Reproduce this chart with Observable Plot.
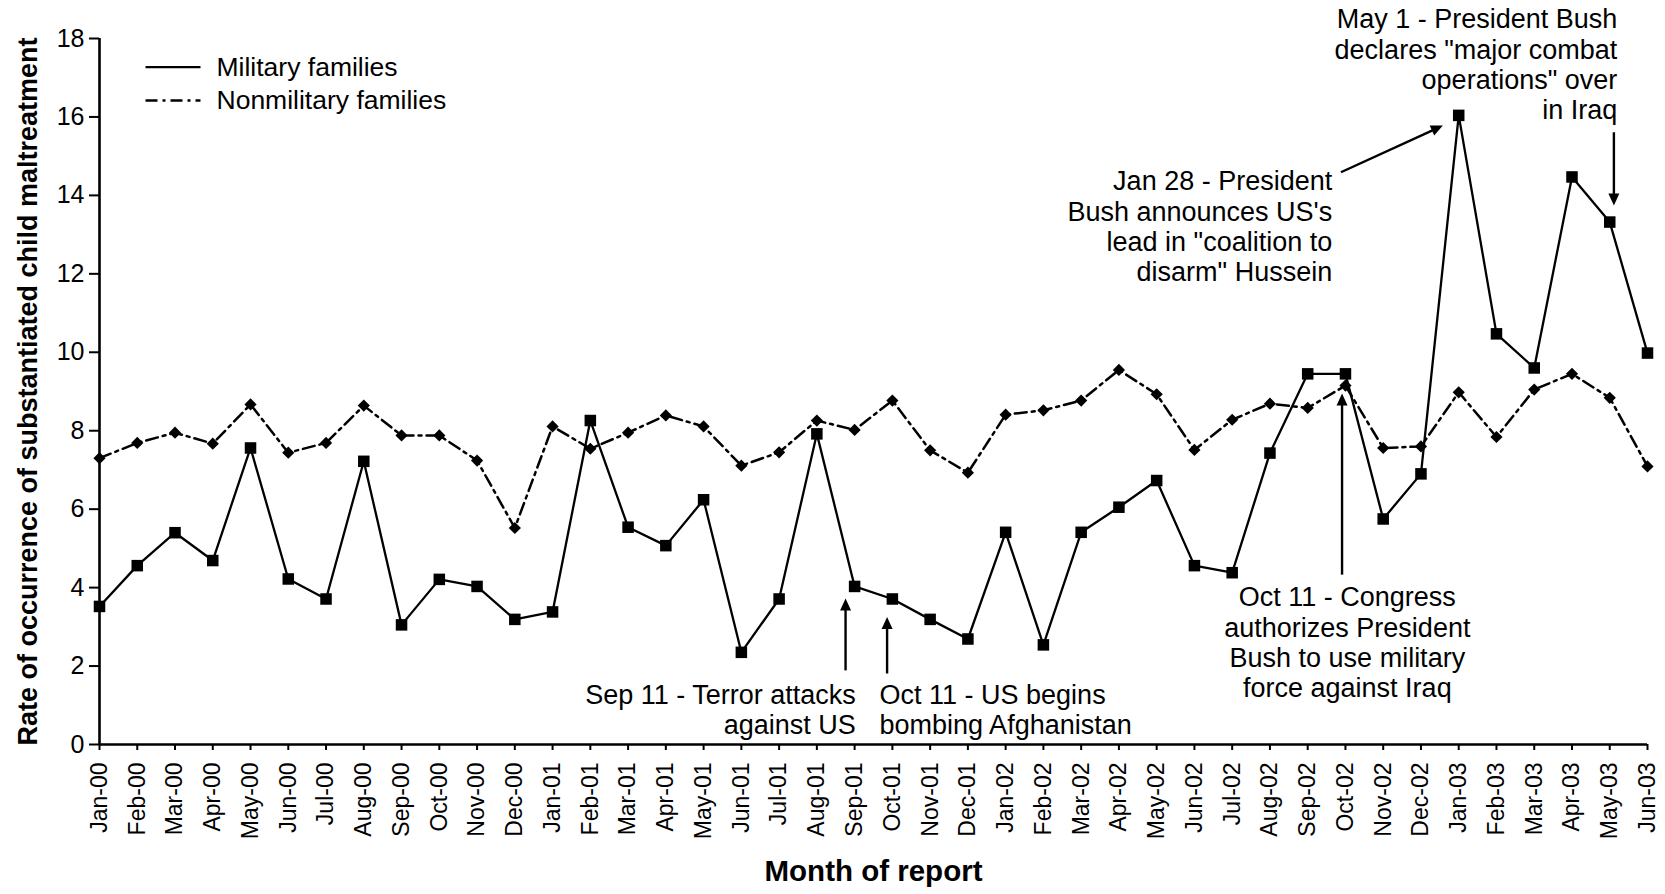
<!DOCTYPE html>
<html><head><meta charset="utf-8">
<script src="https://cdn.jsdelivr.net/npm/d3@7"></script>
<script src="https://cdn.jsdelivr.net/npm/@observablehq/plot@0.6"></script>
<style>body{margin:0;background:#fff}</style>
</head><body><div id="chart"></div>
<script>
const months = ["Jan-00","Feb-00","Mar-00","Apr-00","May-00","Jun-00","Jul-00","Aug-00","Sep-00","Oct-00","Nov-00","Dec-00",
"Jan-01","Feb-01","Mar-01","Apr-01","May-01","Jun-01","Jul-01","Aug-01","Sep-01","Oct-01","Nov-01","Dec-01",
"Jan-02","Feb-02","Mar-02","Apr-02","May-02","Jun-02","Jul-02","Aug-02","Sep-02","Oct-02","Nov-02","Dec-02",
"Jan-03","Feb-03","Mar-03","Apr-03","May-03","Jun-03"];
const military = [3.52,4.56,5.40,4.69,7.56,4.22,3.71,7.22,3.05,4.21,4.03,3.19,
3.38,8.26,5.54,5.07,6.24,2.35,3.71,7.92,4.03,3.71,3.19,2.69,
5.41,2.54,5.41,6.05,6.73,4.56,4.38,7.43,9.45,9.45,5.75,6.90,
16.04,10.47,9.60,14.47,13.32,9.98];
const nonmilitary = [7.30,7.69,7.95,7.67,8.67,7.44,7.69,8.64,7.88,7.88,7.24,5.52,
8.11,7.54,7.95,8.39,8.11,7.11,7.45,8.26,8.02,8.77,7.50,6.93,
8.41,8.52,8.77,9.55,8.93,7.51,8.28,8.69,8.58,9.15,7.56,7.60,
8.98,7.84,9.05,9.45,8.84,7.09];
const yTicks = [0,2,4,6,8,10,12,14,16,18];
const legendLabels = ["Military families","Nonmilitary families"];
const yTitle = "Rate of occurrence of substantiated child maltreatment";
const xTitle = "Month of report";
// annotations: anchor point in data units (month index, rate)
const annotations = [
  {text:"Sep 11 - Terror attacks\nagainst US", x:20.03, y:1.585, anchor:"end"},
  {text:"Oct 11 - US begins\nbombing Afghanistan", x:20.66, y:1.585, anchor:"start"},
  {text:"Oct 11 - Congress\nauthorizes President\nBush to use military\nforce against Iraq", x:33.05, y:4.065, anchor:"middle"},
  {text:"Jan 28 - President\nBush announces US's\nlead in \"coalition to\ndisarm\" Hussein", x:32.65, y:14.67, anchor:"end"},
  {text:"May 1 - President Bush\ndeclares \"major combat\noperations\" over\nin Iraq", x:40.2, y:18.8, anchor:"end"}
];
const arrows = [
  {x1:19.76, y1:1.89, x2:19.76, y2:3.72},
  {x1:20.86, y1:1.81, x2:20.86, y2:3.25},
  {x1:32.91, y1:4.33, x2:32.91, y2:8.95},
  {x1:32.88, y1:14.59, x2:35.58, y2:15.78},
  {x1:40.11, y1:15.61, x2:40.11, y2:13.74}
];

const W=1665,H=894,ML=99,MR=18,MT=38,MB=150;
const N = months.length-1;
const YMAX = 18;
const pxX = (W-ML-MR)/N, pxY = (H-MB-MT)/YMAX;
const xInv = px => (px-ML)/pxX;
const yInv = py => YMAX*(H-MB-py)/(H-MB-MT);

const data = months.map((m,i)=>({i, m, mil: military[i], non: nonmilitary[i]}));
const font = "Arial, 'Liberation Sans', Helvetica, sans-serif";
const dash = "12,5,3,5";
const HEAD_L = 12, HEAD_W = 5.5;

const legendRows = legendLabels.map((name,k)=>({name, k, y: yInv(66.7 + k*33.3)}));

const textMarks = ["start","middle","end"].map(a =>
  Plot.text(annotations.filter(d=>d.anchor===a), {x:"x", y:"y", text:"text", textAnchor:a, lineAnchor:"top", fontSize:27, lineHeight:1.115, fill:"#000"}));

// arrow shafts + filled heads (direction computed in screen space)
const arrowMarks = arrows.flatMap(a => {
  const sx = (a.x2-a.x1)*pxX, sy = -(a.y2-a.y1)*pxY;
  const len = Math.hypot(sx, sy), ux = sx/len, uy = sy/len;
  const shaft = {x1:a.x1, y1:a.y1, x2:a.x2 - (ux*HEAD_L*0.7)/pxX, y2:a.y2 + (uy*HEAD_L*0.7)/pxY};
  const head = {draw(ctx){
    const bx = -ux*HEAD_L, by = -uy*HEAD_L, px = -uy, py = ux;
    ctx.moveTo(0,0);
    ctx.lineTo(bx + px*HEAD_W, by + py*HEAD_W);
    ctx.lineTo(bx - px*HEAD_W, by - py*HEAD_W);
    ctx.closePath();
  }};
  return [
    Plot.link([shaft],{x1:"x1",y1:"y1",x2:"x2",y2:"y2",stroke:"#000",strokeWidth:2.4}),
    Plot.dot([a],{x:"x2",y:"y2",symbol:head,fill:"#000",stroke:"none",r:5})
  ];
});

const chart = Plot.plot({
  width:W, height:H, marginLeft:ML, marginRight:MR, marginTop:MT, marginBottom:MB,
  style:{fontFamily:font, color:"#000", background:"#fff", overflow:"visible"},
  x:{domain:[0,N], axis:null},
  y:{domain:[0,YMAX], axis:null},
  marks:[
    Plot.axisX({ticks:d3.range(0,N+1), tickFormat:i=>months[i], tickRotate:-90, tickSize:6, tickPadding:12, fontSize:23, label:null, strokeWidth:2}),
    Plot.axisY({ticks:yTicks, tickSize:10, tickPadding:5, fontSize:25, label:null, strokeWidth:2}),
    Plot.ruleX([0],{y1:0,y2:YMAX,strokeWidth:2.6}),
    Plot.ruleY([0],{x1:0,x2:N,strokeWidth:2.6}),
    Plot.line(data,{x:"i",y:"non",stroke:"#000",strokeWidth:2.5,strokeDasharray:dash}),
    Plot.line(data,{x:"i",y:"mil",stroke:"#000",strokeWidth:2.3}),
    Plot.dot(data,{x:"i",y:"non",symbol:"diamond2",r:5.5,fill:"#000"}),
    Plot.dot(data,{x:"i",y:"mil",symbol:"square",r:6.5,fill:"#000"}),
    ...arrowMarks,
    ...textMarks,
    Plot.link(legendRows.filter(d=>d.k===0),{x1:xInv(145),x2:xInv(200),y1:"y",y2:"y",stroke:"#000",strokeWidth:2.3}),
    Plot.link(legendRows.filter(d=>d.k===1),{x1:xInv(145),x2:xInv(200),y1:"y",y2:"y",stroke:"#000",strokeWidth:2.3,strokeDasharray:dash}),
    Plot.text(legendRows,{x:xInv(216),y:"y",text:"name",textAnchor:"start",fontSize:26.5,fill:"#000"}),
    Plot.text([yTitle],{frameAnchor:"left",textAnchor:"middle",dx:-71,rotate:-90,fontSize:27,fontWeight:"bold",fill:"#000"}),
    Plot.text([xTitle],{frameAnchor:"bottom",textAnchor:"middle",dy:136,fontSize:29.5,fontWeight:"bold",fill:"#000"})
  ]
});
document.getElementById("chart").appendChild(chart);
</script>
</body></html>
